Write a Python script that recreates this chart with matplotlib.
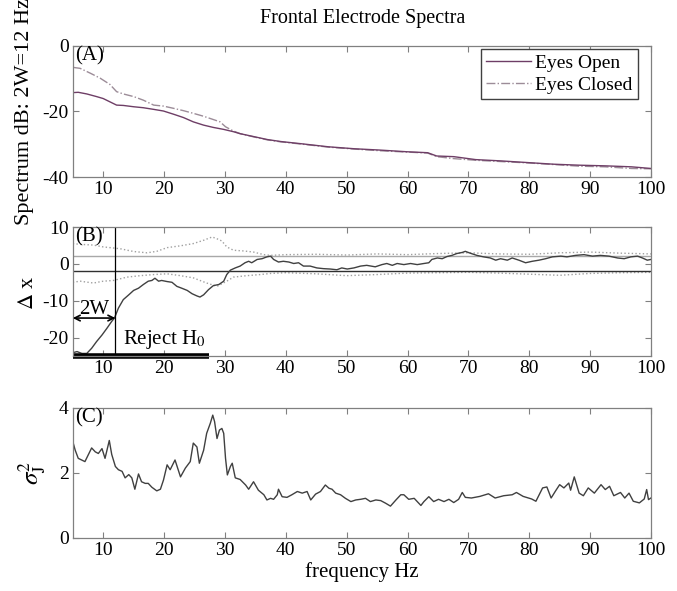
import matplotlib
matplotlib.use("Agg")
import matplotlib.pyplot as plt

plt.rcParams['font.family'] = ['Liberation Serif', 'DejaVu Serif']
plt.rcParams['mathtext.fontset'] = 'stix'
plt.rcParams['axes.unicode_minus'] = False

# (A) spectra in dB
freq_a_open = [5, 5.9, 7.3, 8.9, 10, 11.1, 12.2, 13.3, 15, 16.6, 18.3, 19.9, 21.6, 23.2, 24.8, 26.5,
               28.1, 29.8, 31.4, 32.5, 35, 37, 39.2, 42.7, 47, 51.3, 55.5, 59.8, 63.3, 64.8, 67.6,
               71.2, 75.4, 79.7, 84, 88.2, 92.5, 96.8, 100]
eyes_open = [-14.3, -14.2, -14.7, -15.5, -16.1, -17.1, -18.1, -18.2, -18.6, -18.9, -19.4, -19.9,
             -20.9, -21.9, -23.2, -24.2, -24.9, -25.5, -26.2, -26.8, -27.8, -28.6, -29.2, -29.9,
             -30.8, -31.4, -31.8, -32.3, -32.6, -33.6, -33.8, -34.7, -35.1, -35.6, -36.1, -36.4,
             -36.6, -36.9, -37.4]
freq_a_closed = [5, 6.2, 7.9, 9.5, 11.1, 12.2, 13.3, 15, 16.6, 18.3, 19.9, 21.6, 23.2, 24.8, 26.5,
                 28.1, 29.2, 30.1, 31.4, 32.5, 35, 37, 39.2, 42.7, 47, 51.3, 55.5, 59.8, 63.3, 64.8,
                 67.6, 71.2, 75.4, 79.7, 84, 88.2, 92.5, 96.8, 100]
eyes_closed = [-6.6, -6.9, -8.4, -9.9, -11.8, -14.0, -14.7, -15.5, -16.6, -18.1, -18.4, -19.1,
               -19.8, -20.6, -21.5, -22.5, -23.2, -24.7, -26.0, -26.8, -27.9, -28.7, -29.3, -30.0,
               -30.9, -31.5, -32.0, -32.4, -32.7, -33.8, -34.4, -34.9, -35.3, -35.7, -36.2, -36.7,
               -36.9, -37.4, -37.5]

# (B) difference and bounds
freq_b = [5, 5.7, 6.5, 7.3, 8.1, 8.9, 9.8, 10.6, 11.4, 11.85, 12.5, 13.3, 14.2, 15, 15.8, 16.6,
          17.4, 18, 18.5, 19.1, 19.6, 20.5, 21.3, 22.1, 22.9, 23.8, 24.6, 25.4, 25.9, 26.5, 27.3,
          28.1, 29, 29.8, 30.3, 30.9, 31.7, 32.5, 33.3, 33.9, 34.4, 35.3, 36.1, 36.9, 37.5, 38.0,
          38.8, 39.6, 40.5, 41.3, 42.1, 42.9, 44, 45.1, 46.2, 47.3, 48.4, 49.2, 50.1, 51.2, 52.3,
          53.3, 54.7, 55.8, 56.6, 57.5, 58.3, 59.4, 60.5, 61.6, 62.7, 63.5, 64, 64.9, 65.7, 66.5,
          67.3, 68.1, 69, 69.5, 70.3, 71.4, 72.5, 73.6, 74.5, 75.3, 76.4, 77.2, 78.3, 79.4, 80.5,
          81.6, 82.7, 83.8, 85.2, 86.2, 87.6, 89, 90.4, 91.7, 93.1, 94.5, 95.6, 96.7, 97.8, 98.6,
          99.4, 100]
delta_x = [-24.1, -23.8, -24.3, -24.3, -22.9, -21.1, -19.3, -17.5, -15.6, -14.7, -12, -9.7, -8.4,
           -7.2, -6.6, -5.6, -4.7, -4.5, -3.9, -4.7, -4.5, -4.8, -5.0, -6.1, -6.6, -7.2, -8.1,
           -8.7, -9.0, -8.4, -7.0, -5.9, -5.6, -4.7, -2.9, -1.7, -1.1, -0.6, 0.3, 0.7, 0.3, 1.2,
           1.4, 1.9, 2.1, 1.2, 0.5, 0.7, 0.5, 0.1, 0.3, -0.6, -0.6, -1.1, -1.3, -1.4, -1.6, -1.1,
           -1.4, -1.1, -0.6, -0.4, -0.8, -0.2, 0.1, -0.4, 0.1, -0.2, 0.1, -0.2, 0.1, 0.3, 1.2, 1.6,
           1.4, 2.0, 2.3, 2.8, 3.1, 3.4, 2.9, 2.3, 1.9, 1.6, 1.0, 1.4, 1.0, 1.6, 1.0, 0.3, 0.7,
           1.0, 1.4, 1.9, 2.1, 1.9, 2.3, 2.5, 2.1, 2.3, 2.1, 1.6, 1.4, 1.9, 2.1, 1.6, 1.0, 1.2]
freq_up = [5, 6.2, 8.4, 10, 11.7, 12.8, 15, 17.2, 18.8, 20.5, 22.7, 24.8, 26.5, 27.9, 28.7, 29.5,
           30.3, 31.4, 33.1, 34.7, 36.4, 37.5, 40, 45, 50, 55, 60, 65, 70, 75, 80, 85, 90, 95, 100]
upper_bound = [5.5, 5.3, 5.1, 4.6, 4.3, 4.1, 3.35, 3.0, 3.4, 4.4, 4.9, 5.5, 6.4, 7.3, 6.8, 6.2,
               4.6, 3.7, 3.5, 3.2, 2.5, 2.3, 2.5, 2.6, 2.4, 2.7, 2.5, 2.8, 3.0, 2.7, 2.6, 3.0,
               3.2, 2.9, 2.7]
freq_lo = [5, 6.2, 8.4, 10, 11.7, 13.9, 16.1, 18.3, 20.5, 22.7, 24.8, 27, 28.7, 30.3, 31.4, 33.6,
           35.8, 37.5, 40, 45, 50, 55, 60, 65, 70, 75, 80, 85, 90, 95, 100]
lower_bound = [-5.0, -4.7, -5.2, -4.7, -4.5, -3.6, -3.2, -2.9, -2.7, -3.2, -3.8, -5.2, -6.1,
               -4.7, -3.6, -3.2, -2.9, -2.6, -2.4, -2.7, -3.2, -2.9, -2.5, -2.4, -2.3, -2.5,
               -2.8, -3.1, -2.6, -2.4, -2.3]
band = [-2, 2]
two_w = 12
reject_end = 27.4

# (C) sigma_J^2
freq_c = [5, 5.4, 5.9, 7.0, 8.1, 8.7, 9.2, 9.8, 10.3, 11.0, 11.4, 12.0, 12.5, 13.1, 13.6, 14.2,
          14.7, 15.2, 15.8, 16.3, 16.9, 17.4, 18.0, 18.8, 19.4, 19.9, 20.5, 21.0, 21.8, 22.7,
          23.5, 24.3, 24.8, 25.4, 25.8, 26.5, 27.0, 27.6, 28.0, 28.3, 28.7, 29.1, 29.5, 29.8,
          30.1, 30.4, 30.9, 31.2, 31.7, 32.5, 33.4, 33.9, 34.7, 35.5, 36.4, 36.9, 37.5, 38.0,
          38.6, 38.8, 39.4, 40.2, 41.0, 41.9, 42.7, 43.5, 44.1, 44.9, 45.7, 46.5, 47.1, 47.6,
          48.2, 49.0, 49.8, 50.7, 51.5, 52.3, 53.1, 53.9, 54.8, 55.6, 56.4, 57.2, 58.1, 58.9,
          59.4, 60.2, 61.1, 62.2, 62.7, 63.5, 64.3, 65.1, 66.0, 66.8, 67.6, 68.4, 69.0, 69.5,
          70.5, 71.9, 73.3, 74.4, 75.8, 77.2, 77.9, 79.0, 80.4, 81.1, 82.2, 82.9, 83.6, 84.3,
          85.0, 85.7, 86.5, 86.8, 87.4, 88.2, 88.9, 89.7, 90.7, 91.8, 92.5, 93.2, 93.9, 95.0,
          95.7, 96.4, 97.1, 98.1, 98.9, 99.3, 99.6, 100]
sigma_j = [2.97, 2.7, 2.45, 2.35, 2.77, 2.65, 2.6, 2.75, 2.45, 3.0, 2.57, 2.2, 2.1, 2.05, 1.85,
           1.95, 1.85, 1.5, 1.97, 1.73, 1.68, 1.68, 1.56, 1.45, 1.5, 1.78, 2.25, 2.1, 2.4, 1.88,
           2.15, 2.35, 2.92, 2.8, 2.3, 2.7, 3.22, 3.53, 3.78, 3.58, 3.06, 3.32, 3.37, 3.22, 2.45,
           1.94, 2.2, 2.3, 1.85, 1.8, 1.63, 1.5, 1.73, 1.47, 1.33, 1.17, 1.22, 1.19, 1.33, 1.5,
           1.27, 1.25, 1.33, 1.43, 1.38, 1.43, 1.17, 1.35, 1.43, 1.63, 1.53, 1.5, 1.38, 1.33,
           1.22, 1.12, 1.17, 1.19, 1.22, 1.12, 1.17, 1.15, 1.07, 0.98, 1.17, 1.33, 1.33, 1.19,
           1.22, 1.0, 1.12, 1.27, 1.12, 1.19, 1.12, 1.19, 1.09, 1.19, 1.4, 1.25, 1.23, 1.28,
           1.36, 1.23, 1.3, 1.33, 1.4, 1.28, 1.2, 1.13, 1.54, 1.57, 1.23, 1.44, 1.64, 1.54, 1.69,
           1.47, 1.88, 1.38, 1.3, 1.54, 1.38, 1.64, 1.49, 1.59, 1.3, 1.4, 1.23, 1.38, 1.13, 1.08,
           1.2, 1.49, 1.18, 1.23]

fig = plt.figure(figsize=(6.77, 5.91), dpi=100)
left, width = 0.1075, 0.854
ax_a = fig.add_axes([left, 0.7005, width, 0.2222])
ax_b = fig.add_axes([left, 0.3976, width, 0.2183])
ax_c = fig.add_axes([left, 0.0897, width, 0.2200])

spine_col = '#808080'
for ax in (ax_a, ax_b, ax_c):
    ax.set_xlim(5, 100)
    ax.set_xticks(range(10, 101, 10))
    ax.tick_params(direction='in', top=True, right=True, labelsize=14, length=4,
                   color=spine_col, pad=3)
    for s in ax.spines.values():
        s.set_color(spine_col)
        s.set_linewidth(0.9)

# panel A
ax_a.plot(freq_a_closed, eyes_closed, color='#9c8c98', linestyle='-.', lw=1.0, label='Eyes Closed')
ax_a.plot(freq_a_open, eyes_open, color='#6e3e66', lw=1.0, label='Eyes Open')
ax_a.set_ylim(-40, 0)
ax_a.set_yticks([-40, -20, 0])
h, l = ax_a.get_legend_handles_labels()
ax_a.legend(h[::-1], l[::-1], loc='upper right', bbox_to_anchor=(0.978, 0.977),
            borderaxespad=0, fontsize=14, fancybox=False, edgecolor='#404040',
            handlelength=2.3, handletextpad=0.2, borderpad=0.3, labelspacing=0.2,
            framealpha=1)
ax_a.text(0.004, 0.995, '(A)', transform=ax_a.transAxes, fontsize=15, va='top', ha='left')

# panel B
ax_b.plot(freq_up, upper_bound, color='#a0a0a0', linestyle=':', lw=1.0)
ax_b.plot(freq_lo, lower_bound, color='#a0a0a0', linestyle=':', lw=1.0)
ax_b.axhline(band[1], color='#a8a8a8', lw=1.0)
ax_b.axhline(band[0], color='#303030', lw=1.0)
ax_b.plot(freq_b, delta_x, color='#404040', lw=1.0)
ax_b.axvline(two_w, color='black', lw=0.9)
ax_b.plot([5, reject_end], [-25, -25], color='black', lw=4, solid_capstyle='butt', clip_on=False)
ax_b.annotate('', xy=(5, -14.7), xytext=(two_w, -14.7),
              arrowprops=dict(arrowstyle='<->', color='black', lw=1.2, shrinkA=0, shrinkB=0))
ax_b.text(8.6, -12.3, '2W', fontsize=15, ha='center', va='center')
ax_b.text(13.2, -20.5, 'Reject H$_0$', fontsize=15, ha='left', va='center')
ax_b.set_ylim(-25, 10)
ax_b.set_yticks([-20, -10, 0, 10])
ax_b.text(0.004, 0.995, '(B)', transform=ax_b.transAxes, fontsize=15, va='top', ha='left')

# panel C
ax_c.plot(freq_c, sigma_j, color='#404040', lw=1.0)
ax_c.set_ylim(0, 4)
ax_c.set_yticks([0, 2, 4])
ax_c.text(0.004, 0.995, '(C)', transform=ax_c.transAxes, fontsize=15, va='top', ha='left')
ax_c.set_xlabel('frequency Hz', fontsize=15, labelpad=2)

fig.text(0.535, 0.968, 'Frontal Electrode Spectra', fontsize=14.5, ha='center', va='center')
fig.text(0.036, 0.811, 'Spectrum dB: 2W=12 Hz', fontsize=16, rotation=90, ha='center', va='center')
fig.text(0.042, 0.505, r'$\Delta$ x', fontsize=16, rotation=90, ha='center', va='center')
fig.text(0.048, 0.2, r'$\sigma^2_{\mathrm{J}}$', fontsize=18, rotation=90, ha='center', va='center')

fig.savefig('out.png', dpi=100)
